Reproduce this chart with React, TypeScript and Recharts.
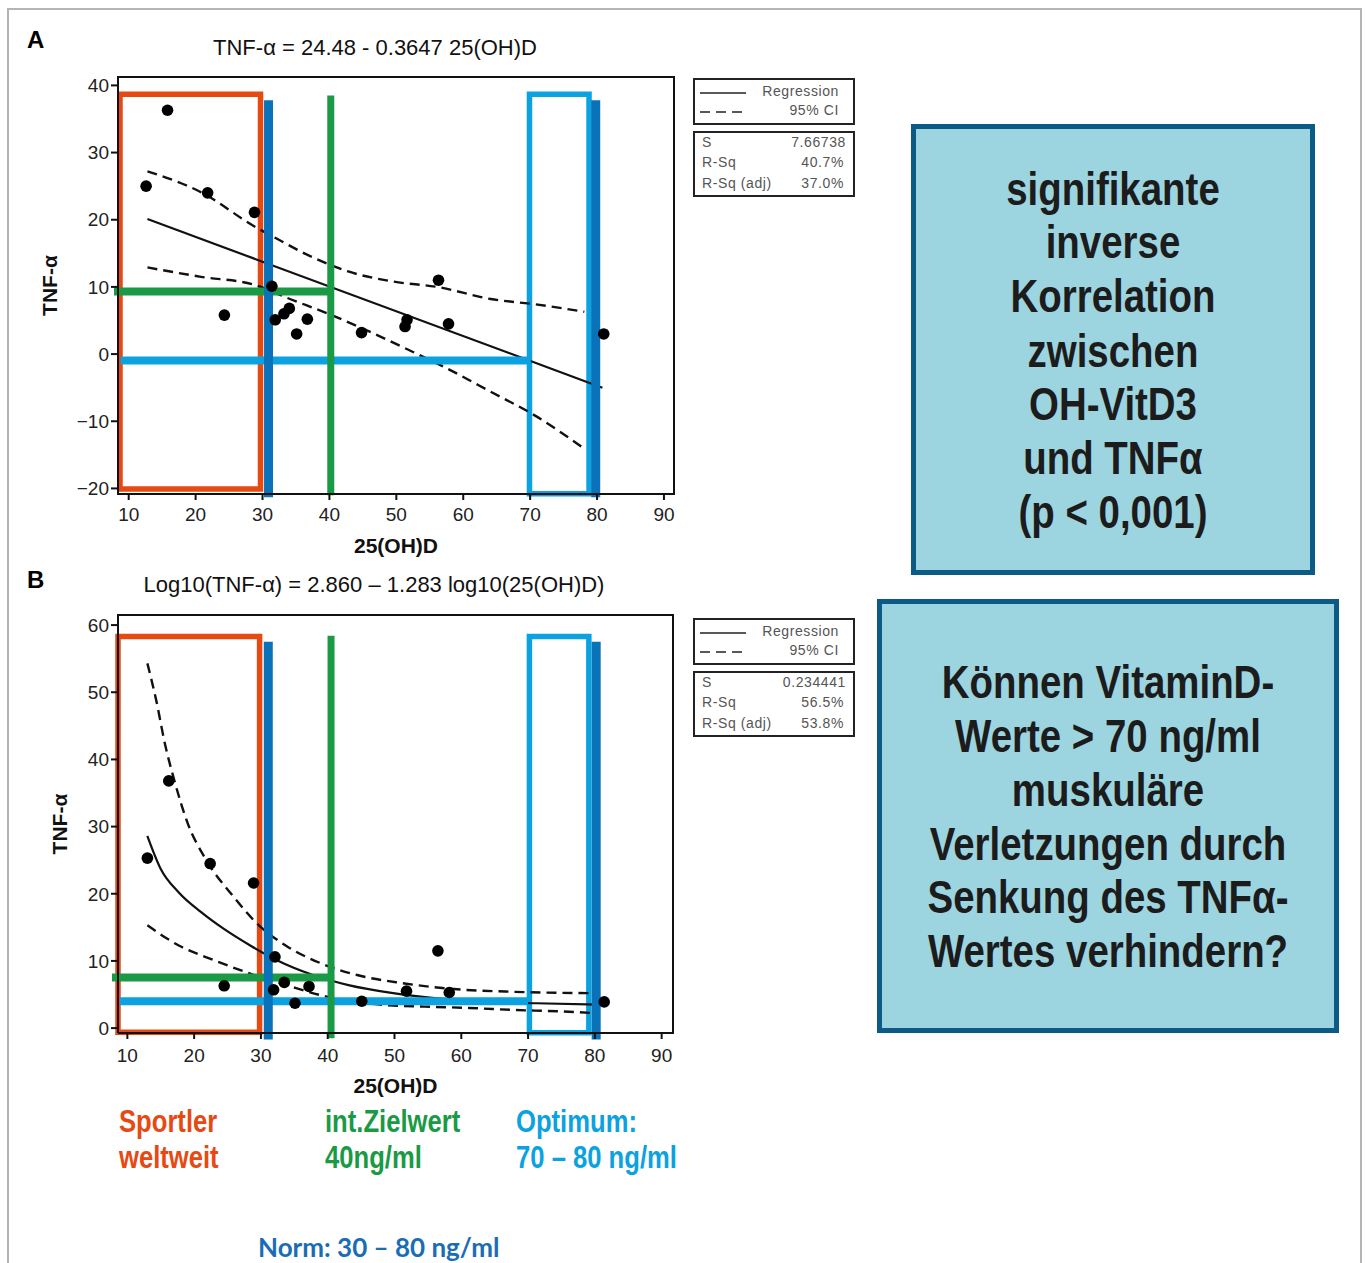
import React from "react";
import {
  ComposedChart,
  Scatter,
  Line,
  XAxis,
  YAxis,
  ReferenceArea,
  ReferenceLine,
} from "recharts";

// ---- data ----
const xTicks = [10, 20, 30, 40, 50, 60, 70, 80, 90];
const yTicksA = [-20, -10, 0, 10, 20, 30, 40];
const yTicksB = [0, 10, 20, 30, 40, 50, 60];

// 25(OH)D vs TNF-alpha, panel A
const pointsA = [
  [12.6, 25.0], [15.8, 36.3], [21.8, 24.0], [28.8, 21.1], [24.3, 5.8],
  [31.4, 10.1], [31.9, 5.1], [33.2, 6.0], [34.0, 6.8], [35.1, 3.0],
  [36.7, 5.2], [44.8, 3.2], [51.3, 4.1], [51.6, 5.1], [56.3, 11.0],
  [57.8, 4.5], [81.0, 3.0],
];
const regressionA = [[12.8, 20.1], [80.8, -5.0]];
const ciUpperA = [
  [12.8, 27.2], [20.8, 24.1], [28.8, 19.0], [32.1, 17.2], [37.5, 14.4],
  [42.8, 12.3], [49.5, 10.8], [56.1, 10.0], [64.1, 8.2], [70.8, 7.4], [78.1, 6.3],
];
const ciLowerA = [
  [12.8, 12.9], [20.8, 11.5], [28.8, 10.3], [34.1, 8.2], [40.1, 5.9],
  [46.1, 3.3], [52.1, 0.5], [57.5, -2.1], [64.1, -5.6], [70.8, -9.2], [78.1, -14.1],
];

// panel B (log-log fit shown on linear axes)
const pointsB = [
  [13.0, 25.3], [16.2, 36.8], [22.4, 24.5], [28.9, 21.6], [24.5, 6.3],
  [32.1, 10.6], [31.9, 5.7], [33.5, 6.8], [35.1, 3.7], [37.2, 6.2],
  [45.1, 4.0], [51.8, 5.5], [56.5, 11.5], [58.2, 5.3], [81.4, 3.9],
];
const regressionB = [
  [13.0, 28.6], [15.0, 23.7], [17.7, 20.2], [21.0, 17.3], [24.4, 14.8],
  [28.4, 12.3], [32.4, 10.1], [37.8, 7.9], [43.1, 6.4], [49.8, 5.2],
  [57.8, 4.3], [64.5, 3.9], [71.2, 3.7], [80.6, 3.5],
];
const ciUpperB = [
  [13.0, 54.3], [14.3, 48.9], [15.7, 42.0], [17.0, 37.0], [19.0, 30.6],
  [21.7, 25.2], [25.7, 19.8], [29.7, 15.3], [33.7, 12.3], [39.1, 9.6],
  [44.4, 7.9], [51.1, 6.7], [57.8, 5.9], [67.9, 5.4], [79.9, 5.2],
];
const ciLowerB = [
  [13.0, 15.3], [17.7, 12.3], [23.0, 10.1], [28.4, 8.1], [34.4, 6.2],
  [41.1, 4.4], [47.8, 3.5], [54.5, 3.2], [61.2, 3.0], [67.9, 2.7],
  [74.5, 2.5], [80.6, 2.2],
];

// highlighted ranges in data units
const marksA = {
  sportler: [8.7, 29.7, 38.7, -20.1],
  optimum: [69.9, 78.8, 38.7, -20.8],
  norm: [[30.9, 37.8, -21.3], [79.8, 37.8, -21.3]],
  target: [40.2, 38.5, -21.0],
  targetLevel: [9.3, 7.8, 40.6],
  optimumLevel: [-0.95, 8.8, 70.1],
};
const marksB = {
  sportler: [8.6, 29.8, 58.3, -0.6],
  optimum: [70.2, 79.1, 58.3, -0.7],
  norm: [[31.1, 57.5, -1.7], [80.2, 57.5, -1.7]],
  target: [40.5, 58.4, -1.5],
  targetLevel: [7.55, 7.7, 40.6],
  optimumLevel: [4.0, 8.9, 70.0],
};

const ORANGE = "#e64a12";
const GREEN = "#1a9a44";
const LIGHT_BLUE = "#0ca2e0";
const DARK_BLUE = "#0a72b8";
const FONT = "'Liberation Sans', Arial, sans-serif";

const toXY = (arr: number[][]) => arr.map(([x, y]) => ({ x, y }));
const fmtY = (v: number) => (v < 0 ? "\u2212" + Math.abs(v) : String(v));

const dot = (p: any) => <circle cx={p.cx} cy={p.cy} r={5.8} fill="#000" />;

function Panel({
  top, height, margin, xAxisHeight, tickGap, xDomain, yDomain, yTicks, points, reg, upper, lower,
  marks, ylabelOffset, regType,
}: any) {
  const [sx1, sx2, sy1, sy2] = marks.sportler;
  const [ox1, ox2, oy1, oy2] = marks.optimum;
  const [tx, ty1, ty2] = marks.target;
  const [gy, gx1, gx2] = marks.targetLevel;
  const [ly, lx1, lx2] = marks.optimumLevel;
  return (
    <div style={{ position: "absolute", left: 0, top }}>
      <ComposedChart width={700} height={height} margin={margin}>
        <XAxis
          type="number"
          dataKey="x"
          domain={xDomain}
          ticks={xTicks}
          allowDataOverflow
          height={xAxisHeight}
          tickSize={6}
          tickMargin={tickGap}
          stroke="#111"
          strokeWidth={2}
          tick={{ fill: "#222", fontSize: 19, fontFamily: FONT }}
          label={{
            value: "25(OH)D",
            position: "insideBottom",
            offset: 7,
            style: { fontSize: 21, fontWeight: 700, fill: "#111", fontFamily: FONT },
          }}
        />
        <YAxis
          type="number"
          dataKey="y"
          domain={yDomain}
          ticks={yTicks}
          allowDataOverflow
          width={100}
          tickSize={7}
          tickMargin={2}
          tickFormatter={fmtY}
          stroke="#111"
          strokeWidth={2}
          tick={{ fill: "#222", fontSize: 19, fontFamily: FONT }}
          label={{
            value: "TNF-\u03b1",
            angle: -90,
            position: "insideLeft",
            offset: ylabelOffset,
            style: { fontSize: 21, fontWeight: 700, fill: "#111", fontFamily: FONT, textAnchor: "middle" },
          }}
        />
        <ReferenceArea
          x1={xDomain[0]} x2={xDomain[1]} y1={yDomain[0]} y2={yDomain[1]}
          fill="none" fillOpacity={0} stroke="#111" strokeWidth={2} ifOverflow="visible"
        />
        <Line data={toXY(upper)} dataKey="y" type="monotone" stroke="#111" strokeWidth={2.4}
          strokeDasharray="10 6" dot={false} isAnimationActive={false} />
        <Line data={toXY(lower)} dataKey="y" type="monotone" stroke="#111" strokeWidth={2.4}
          strokeDasharray="10 6" dot={false} isAnimationActive={false} />
        <Line data={toXY(reg)} dataKey="y" type={regType} stroke="#111" strokeWidth={2.2}
          dot={false} isAnimationActive={false} />
        <Scatter data={toXY(points)} dataKey="y" shape={dot} isAnimationActive={false} />
        <ReferenceArea x1={sx1} x2={sx2} y1={sy2} y2={sy1} fill="none" fillOpacity={0}
          stroke={ORANGE} strokeWidth={5.5} ifOverflow="visible" />
        <ReferenceArea x1={ox1} x2={ox2} y1={oy2} y2={oy1} fill="none" fillOpacity={0}
          stroke={LIGHT_BLUE} strokeWidth={5.5} ifOverflow="visible" />
        <ReferenceLine segment={[{ x: gx1, y: gy }, { x: gx2, y: gy }]}
          stroke={GREEN} strokeWidth={8} ifOverflow="visible" />
        <ReferenceLine segment={[{ x: lx1, y: ly }, { x: lx2, y: ly }]}
          stroke={LIGHT_BLUE} strokeWidth={8} ifOverflow="visible" />
        <ReferenceLine segment={[{ x: tx, y: ty1 }, { x: tx, y: ty2 }]}
          stroke={GREEN} strokeWidth={7} ifOverflow="visible" />
        {marks.norm.map(([nx, n1, n2]: number[], i: number) => (
          <ReferenceLine key={i} segment={[{ x: nx, y: n1 }, { x: nx, y: n2 }]}
            stroke={DARK_BLUE} strokeWidth={9} ifOverflow="visible" />
        ))}
      </ComposedChart>
    </div>
  );
}

function StatBox({ top, s, rsq, rsqAdj }: any) {
  const small: React.CSSProperties = {
    position: "absolute", fontFamily: FONT, fontSize: 14, color: "#555", lineHeight: "15px",
    letterSpacing: 0.6,
  };
  return (
    <>
      <div style={{ position: "absolute", left: 693, top, width: 162, height: 47,
        border: "2px solid #222", boxSizing: "border-box" }}>
        <svg width={50} height={40} style={{ position: "absolute", left: 5, top: 2 }}>
          <line x1={0} y1={11} x2={46} y2={11} stroke="#222" strokeWidth={1.5} />
          <line x1={0} y1={30} x2={46} y2={30} stroke="#222" strokeWidth={1.5} strokeDasharray="10 6" />
        </svg>
        <div style={{ ...small, right: 14, top: 4 }}>Regression</div>
        <div style={{ ...small, right: 14, top: 23 }}>95% CI</div>
      </div>
      <div style={{ position: "absolute", left: 693, top: top + 53, width: 162, height: 66,
        border: "2px solid #222", boxSizing: "border-box" }}>
        <div style={{ ...small, left: 7, top: 2 }}>S</div>
        <div style={{ ...small, left: 7, top: 22 }}>R-Sq</div>
        <div style={{ ...small, left: 7, top: 43 }}>R-Sq (adj)</div>
        <div style={{ ...small, right: 7, top: 2 }}>{s}</div>
        <div style={{ ...small, right: 9, top: 22 }}>{rsq}</div>
        <div style={{ ...small, right: 9, top: 43 }}>{rsqAdj}</div>
      </div>
    </>
  );
}

// narrow bold text: Liberation Sans squeezed horizontally
function Callout({ left, top, width, height, cx, lines, centers }: any) {
  return (
    <>
      <div style={{ position: "absolute", left, top, width, height, boxSizing: "border-box",
        background: "#9cd5e0", border: "5px solid #0c5a86" }} />
      {lines.map((t: string, i: number) => (
        <div key={i} style={{ position: "absolute", left: cx - 300, width: 600, top: centers[i] - 25,
          height: 50, lineHeight: "50px", textAlign: "center", fontFamily: FONT, fontWeight: 700,
          fontSize: 42, color: "#1c1c1c", transform: "scale(0.915, 1.1)", whiteSpace: "nowrap" }}>{t}</div>
      ))}
    </>
  );
}

function Tag({ left, top, color, children, font = FONT, size = 28, sx = 0.915, sy = 1.1, lh = 36 }: any) {
  return (
    <div style={{ position: "absolute", left, top: top - lh / 2, height: lh, lineHeight: `${lh}px`,
      fontFamily: font, fontWeight: 700, fontSize: size, color, whiteSpace: "nowrap",
      transform: `scale(${sx}, ${sy})`, transformOrigin: "left center" }}>{children}</div>
  );
}

export default function App() {
  const titleStyle: React.CSSProperties = {
    position: "absolute", fontFamily: FONT, fontSize: 22, color: "#111", whiteSpace: "nowrap",
    transform: "translateX(-50%)", lineHeight: "24px",
  };
  return (
    <div style={{ position: "absolute", left: 0, top: 0, width: 1365, height: 1263,
      overflow: "hidden", background: "#fff" }}>
      <div style={{ position: "absolute", left: 7, top: 8, width: 1355, height: 1400,
        border: "2px solid #b4b4b4", boxSizing: "border-box" }} />

      <Panel
        top={0}
        height={560}
        margin={{ top: 77, right: 26, left: 18, bottom: 0 }}
        xAxisHeight={66}
        tickGap={8}
        xDomain={[8.4, 91.5]}
        yDomain={[-20.83, 41.25]}
        yTicks={yTicksA}
        points={pointsA}
        reg={regressionA}
        upper={ciUpperA}
        lower={ciLowerA}
        marks={marksA}
        ylabelOffset={32}
        regType="linear"
      />
      <Panel
        top={560}
        height={540}
        margin={{ top: 55, right: 27, left: 18, bottom: 0 }}
        xAxisHeight={67}
        tickGap={10}
        xDomain={[8.6, 91.7]}
        yDomain={[-0.73, 61.5]}
        yTicks={yTicksB}
        points={pointsB}
        reg={regressionB}
        upper={ciUpperB}
        lower={ciLowerB}
        marks={marksB}
        ylabelOffset={42}
        regType="monotone"
      />

      <div style={{ position: "absolute", left: 27, top: 26, fontFamily: FONT, fontWeight: 700, fontSize: 24 }}>A</div>
      <div style={{ position: "absolute", left: 27, top: 566, fontFamily: FONT, fontWeight: 700, fontSize: 24 }}>B</div>
      <div style={{ ...titleStyle, left: 375, top: 36 }}>TNF-{"\u03b1"} = 24.48 - 0.3647 25(OH)D</div>
      <div style={{ ...titleStyle, left: 374, top: 573 }}>Log10(TNF-{"\u03b1"}) = 2.860 {"\u2013"} 1.283 log10(25(OH)D)</div>

      <StatBox top={78} s="7.66738" rsq="40.7%" rsqAdj="37.0%" />
      <StatBox top={618} s="0.234441" rsq="56.5%" rsqAdj="53.8%" />

      <Callout
        left={911} top={124} width={404} height={451} cx={1113}
        lines={["signifikante", "inverse", "Korrelation", "zwischen", "OH-VitD3", "und TNF\u03b1", "(p < 0,001)"]}
        centers={[190, 243, 297, 352, 405, 459, 513]}
      />
      <Callout
        left={877} top={599} width={462} height={434} cx={1108}
        lines={["Können VitaminD-", "Werte > 70 ng/ml", "muskuläre", "Verletzungen durch", "Senkung des TNF\u03b1-", "Wertes verhindern?"]}
        centers={[683, 737, 791, 845, 898, 952]}
      />

      <Tag left={119} top={1122} color={ORANGE}>Sportler</Tag>
      <Tag left={119} top={1158} color={ORANGE}>weltweit</Tag>
      <Tag left={325} top={1122} color={GREEN}>int.Zielwert</Tag>
      <Tag left={325} top={1158} color={GREEN}>40ng/ml</Tag>
      <Tag left={516} top={1122} color={LIGHT_BLUE}>Optimum:</Tag>
      <Tag left={516} top={1158} color={LIGHT_BLUE}>70 {"\u2013"} 80 ng/ml</Tag>
      <Tag left={258} top={1246} lh={28} color="#1a6db5" font="Lato, 'Open Sans', sans-serif" size={25} sx={1.04} sy={1.05}>
        Norm: 30 {"\u2013"} 80 ng/ml
      </Tag>
    </div>
  );
}
